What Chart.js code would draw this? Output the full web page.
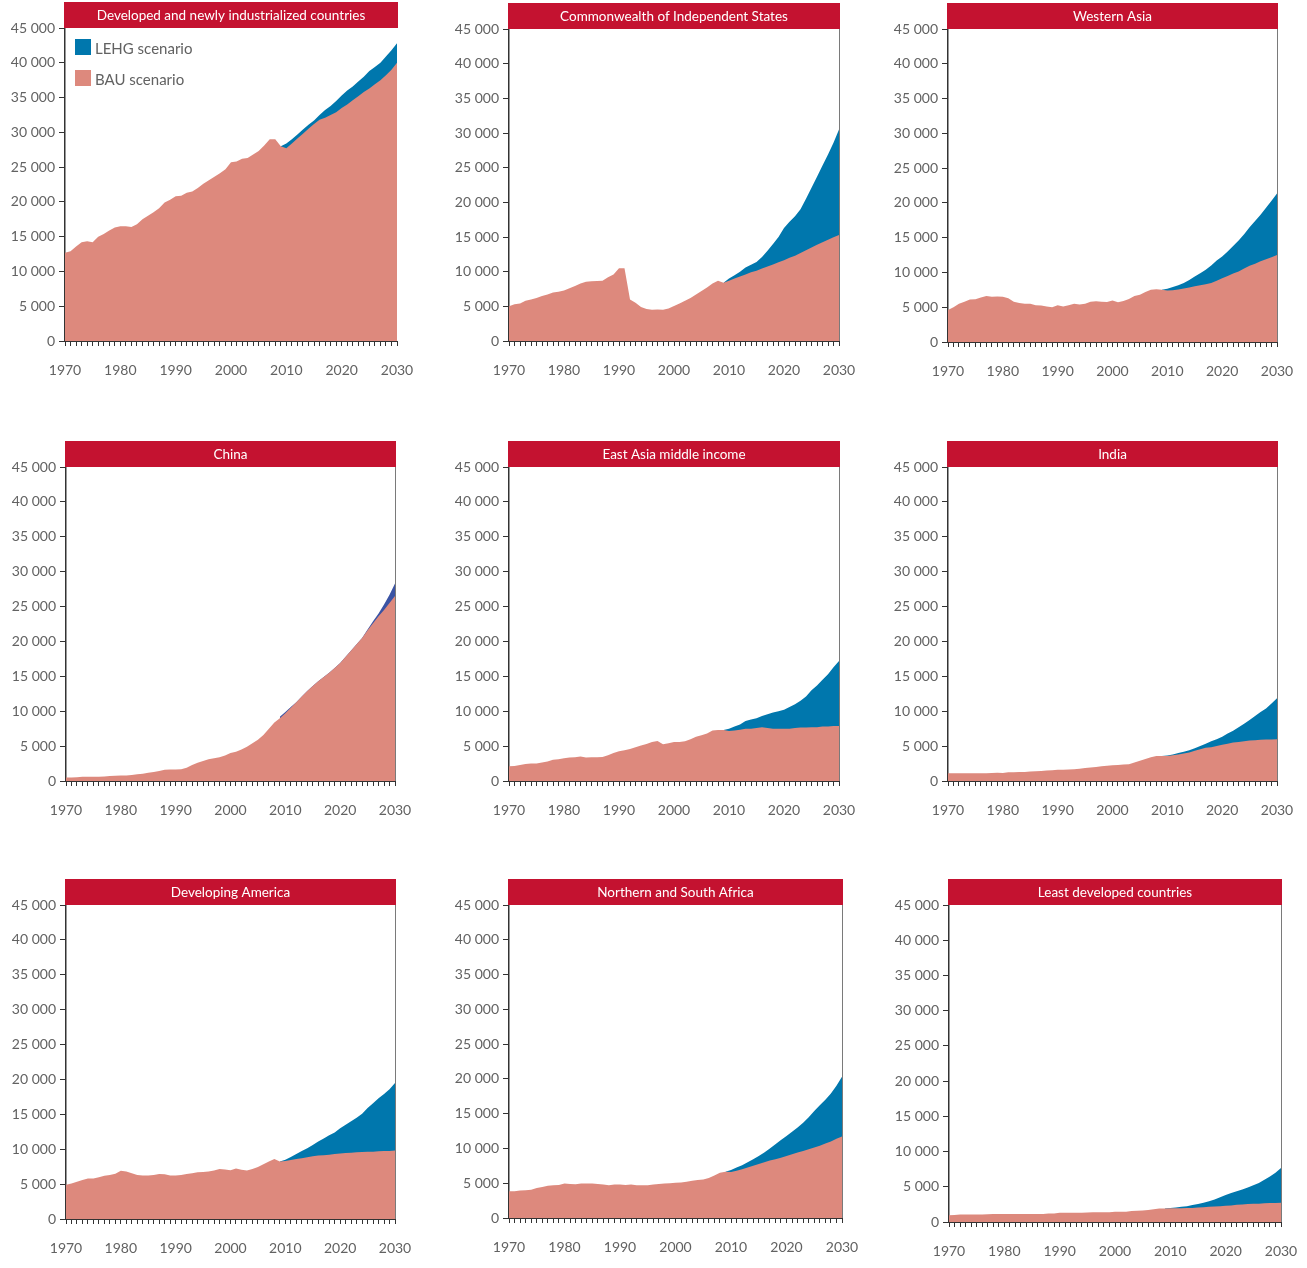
<!DOCTYPE html>
<html>
<head>
<meta charset="utf-8">
<script src="https://cdn.jsdelivr.net/npm/chart.js@4.4.1/dist/chart.umd.min.js"></script>
<style>
  body { margin: 0; background: #fff; }
  #page { position: relative; width: 1307px; height: 1268px; overflow: hidden; }
  #page canvas { position: absolute; }
</style>
</head>
<body>
<div id="page"></div>
<script>
// ---- data ----
var years = [1970,1971,1972,1973,1974,1975,1976,1977,1978,1979,
             1980,1981,1982,1983,1984,1985,1986,1987,1988,1989,
             1990,1991,1992,1993,1994,1995,1996,1997,1998,1999,
             2000,2001,2002,2003,2004,2005,2006,2007,2008,2009,
             2010,2011,2012,2013,2014,2015,2016,2017,2018,2019,
             2020,2021,2022,2023,2024,2025,2026,2027,2028,2029,2030];
var decadeLabels = ['1970','1980','1990','2000','2010','2020','2030'];
var lehgFrom = 2009; // LEHG series start (values below run 2009..2030)

var titles = ['Developed and newly industrialized countries', 'Commonwealth of Independent States', 'Western Asia',
              'China', 'East Asia middle income', 'India',
              'Developing America', 'Northern and South Africa', 'Least developed countries'];
var seriesNames = ['BAU scenario', 'LEHG scenario'];

var bauDev = [12700,12900,13600,14200,14350,14200,15000,15400,15900,16300,
              16500,16500,16400,16800,17500,18000,18500,19100,19900,20300,
              20800,20900,21300,21500,22000,22600,23100,23600,24100,24700,
              25700,25800,26200,26300,26800,27300,28100,29000,29000,28000,
              27700,28400,29100,29800,30500,31200,31800,32100,32500,32900,
              33500,34000,34600,35200,35800,36300,36900,37500,38200,39000,40000];
var lehgDev = [28000,28400,29000,29700,30400,31100,31700,32500,33200,33800,34500,
               35300,36000,36600,37300,38000,38800,39400,40000,40900,41800,42800];

var bauCis = [5000,5300,5400,5800,6000,6200,6500,6700,7000,7100,
              7300,7600,7950,8300,8550,8600,8650,8700,9200,9600,
              10500,10500,6000,5500,4900,4600,4500,4550,4500,4700,
              5050,5400,5800,6200,6700,7200,7700,8300,8700,8400,
              8700,9000,9300,9600,9900,10150,10450,10750,11050,11350,
              11650,12000,12300,12700,13100,13500,13900,14250,14600,14950,15300];
var lehgCis = [8400,9000,9500,10000,10600,11000,11400,12100,13000,14000,15000,
               16300,17200,18000,19000,20500,22100,23700,25300,26900,28600,30500];

var bauWAsia = [4600,5000,5500,5800,6100,6150,6400,6600,6500,6550,
                6500,6300,5800,5600,5500,5500,5300,5250,5100,5000,
                5300,5100,5300,5500,5400,5500,5800,5850,5800,5750,
                5950,5700,5900,6200,6600,6800,7200,7500,7600,7500,
                7400,7450,7550,7700,7850,8000,8150,8300,8500,8800,
                9150,9500,9850,10150,10550,10950,11250,11600,11900,12200,12500];
var lehgWAsia = [7500,7650,7900,8150,8500,8900,9400,9900,10400,11000,11700,
                 12300,13000,13800,14600,15500,16500,17400,18300,19300,20300,21350];

var bauChina = [500,500,550,600,600,600,600,650,700,750,
                800,800,850,950,1050,1200,1300,1450,1600,1650,
                1650,1700,1900,2300,2600,2850,3100,3250,3400,3650,
                4000,4200,4500,4900,5400,5900,6600,7500,8400,9000,
                9700,10500,11300,12100,12900,13600,14300,14900,15500,16200,
                16900,17800,18700,19600,20500,21600,22600,23600,24500,25500,26500];
var lehgChina = [9200,9900,10600,11300,12100,12900,13600,14300,14900,15500,16200,
                 16900,17800,18700,19600,20500,21700,22900,24000,25300,26700,28300];

var bauEAsia = [2100,2150,2300,2450,2500,2500,2650,2800,3050,3100,
                3250,3350,3400,3500,3350,3400,3400,3450,3700,4000,
                4250,4400,4600,4850,5100,5300,5600,5750,5250,5400,
                5600,5600,5700,6000,6350,6550,6800,7250,7300,7300,
                7150,7250,7350,7500,7500,7600,7700,7600,7500,7500,
                7500,7500,7600,7650,7650,7700,7700,7800,7800,7900,7900];
var lehgEAsia = [7300,7500,7800,8100,8600,8800,9000,9300,9550,9800,10000,
                 10200,10600,11000,11500,12100,13000,13700,14500,15300,16300,17200];

var bauIndia = [1100,1100,1100,1100,1100,1100,1100,1100,1150,1200,
                1150,1250,1250,1300,1300,1350,1400,1450,1500,1550,
                1600,1600,1650,1700,1750,1850,1950,2000,2100,2200,
                2250,2300,2350,2400,2650,2900,3150,3400,3600,3600,
                3600,3700,3800,3950,4100,4350,4550,4750,4850,5000,
                5200,5350,5500,5600,5700,5800,5850,5900,5950,5950,6000];
var lehgIndia = [3600,3650,3800,4000,4200,4400,4700,5000,5350,5700,6000,
                 6350,6800,7200,7700,8200,8750,9300,9900,10400,11100,11850];

var bauDevAm = [4900,5100,5350,5600,5800,5800,6000,6200,6300,6500,
                6900,6800,6550,6300,6250,6250,6300,6450,6400,6250,
                6250,6300,6450,6550,6700,6750,6800,6950,7150,7100,
                7000,7250,7050,6950,7150,7450,7850,8250,8600,8250,
                8300,8450,8600,8700,8850,9000,9100,9150,9200,9300,
                9400,9450,9500,9550,9600,9650,9650,9700,9750,9750,9800];
var lehgDevAm = [8250,8500,8900,9300,9750,10150,10600,11100,11550,12000,12400,
                 13000,13500,14000,14500,15100,15900,16600,17300,17900,18600,19500];

var bauAfrica = [3850,3850,3950,4000,4050,4300,4450,4650,4700,4750,
                 4950,4900,4850,4950,4950,4950,4900,4800,4700,4800,
                 4800,4750,4800,4700,4700,4700,4800,4900,4950,5000,
                 5050,5100,5200,5350,5450,5550,5750,6100,6500,6650,
                 6600,6800,7000,7250,7500,7750,8000,8250,8450,8650,
                 8900,9150,9400,9650,9900,10150,10400,10700,11000,11400,11700];
var lehgAfrica = [6650,6900,7250,7600,8000,8450,8900,9400,10000,10600,11200,
                  11800,12400,13000,13700,14500,15400,16200,17000,17900,19000,20300];

var bauLdc = [950,1000,1050,1050,1050,1050,1050,1100,1150,1150,
              1150,1150,1150,1150,1150,1150,1150,1150,1200,1200,
              1300,1300,1300,1300,1300,1350,1400,1400,1400,1400,
              1450,1450,1450,1550,1600,1650,1700,1800,1900,1900,
              1950,1950,1950,2000,2000,2050,2100,2150,2200,2250,
              2300,2350,2450,2500,2550,2600,2600,2650,2700,2700,2750];
var lehgLdc = [1900,2000,2050,2150,2250,2400,2550,2750,2950,3200,3500,
               3850,4100,4350,4600,4900,5200,5550,6000,6450,7000,7650];

// ---- look ----
var RED = '#c41230';
var BAU_COLOR = '#dd897d';
var LEHG_COLOR = '#0077ad';
var LEHG_CHINA = '#3a53a4';
var TEXT = '#626262';
var AXIS = '#333333';

// plot boxes [left, top, right, bottom] in page pixels
var panels = [
  { title: titles[0], bau: bauDev,   lehg: lehgDev,   box: [65, 28, 397, 341],   legend: true,  rightLine: false },
  { title: titles[1], bau: bauCis,   lehg: lehgCis,   box: [509, 29, 839, 341],  legend: false, rightLine: true },
  { title: titles[2], bau: bauWAsia, lehg: lehgWAsia, box: [948, 29, 1277, 342], legend: false, rightLine: true },
  { title: titles[3], bau: bauChina, lehg: lehgChina, box: [66, 467, 395, 781],  legend: false, rightLine: true, lehgColor: LEHG_CHINA },
  { title: titles[4], bau: bauEAsia, lehg: lehgEAsia, box: [509, 467, 839, 781], legend: false, rightLine: true },
  { title: titles[5], bau: bauIndia, lehg: lehgIndia, box: [948, 467, 1277, 781],legend: false, rightLine: true },
  { title: titles[6], bau: bauDevAm, lehg: lehgDevAm, box: [66, 905, 395, 1219], legend: false, rightLine: true },
  { title: titles[7], bau: bauAfrica,lehg: lehgAfrica,box: [509, 905, 842, 1218],legend: false, rightLine: true },
  { title: titles[8], bau: bauLdc,   lehg: lehgLdc,   box: [949, 905, 1281, 1222],legend: false, rightLine: true }
];

// the x tick padding also pushes the right edge in, so keep RIGHT_PAD above half a label + padding
var Y_AXIS_W = 62, TOP_PAD = 28, X_AXIS_H = 45, RIGHT_PAD = 40, X_LABEL_PAD = 16;

function padFrom(values) {
  var out = [];
  var skip = years.indexOf(lehgFrom);
  for (var i = 0; i < skip; i++) out.push(null);
  return out.concat(values);
}

function spaced(v) {
  return String(v).replace(/\B(?=(\d{3})+(?!\d))/g, ' ');
}

var panelDecor = {
  id: 'panelDecor',
  afterDraw: function(chart, args, opts) {
    var a = chart.chartArea, ctx = chart.ctx;
    ctx.save();
    // red title bar
    ctx.fillStyle = RED;
    ctx.fillRect(a.left - 1, a.top - 26, a.right - a.left + 2, 26);
    ctx.fillStyle = '#ffffff';
    ctx.font = '13.5px Lato';
    ctx.textAlign = 'center';
    ctx.textBaseline = 'middle';
    ctx.fillText(opts.title, (a.left + a.right) / 2, a.top - 12.5);
    if (opts.rightLine) {
      ctx.strokeStyle = '#7a7a7a';
      ctx.lineWidth = 1;
      ctx.beginPath();
      ctx.moveTo(a.right + 0.5, a.top);
      ctx.lineTo(a.right + 0.5, a.bottom);
      ctx.stroke();
    }
    if (opts.legend) {
      var ds = chart.data.datasets;
      var order = [1, 0];
      ctx.font = '15px Lato';
      ctx.textAlign = 'left';
      for (var i = 0; i < order.length; i++) {
        var d = ds[order[i]];
        var y = a.top + 11 + i * 31;
        ctx.fillStyle = d.backgroundColor;
        ctx.fillRect(a.left + 10, y, 16, 16);
        ctx.fillStyle = TEXT;
        ctx.fillText(d.label, a.left + 30, y + 10);
      }
    }
    ctx.restore();
  }
};

function makePanel(p) {
  var L = p.box[0], T = p.box[1], R = p.box[2], B = p.box[3];
  var canvas = document.createElement('canvas');
  var w = (R - L) + Y_AXIS_W + RIGHT_PAD;
  var h = (B - T) + TOP_PAD + X_AXIS_H;
  canvas.width = w; canvas.height = h;
  canvas.style.left = (L - Y_AXIS_W) + 'px';
  canvas.style.top = (T - TOP_PAD) + 'px';
  canvas.style.width = w + 'px';
  canvas.style.height = h + 'px';
  document.getElementById('page').appendChild(canvas);

  return new Chart(canvas, {
    type: 'line',
    data: {
      labels: years,
      datasets: [
        {
          label: seriesNames[0],
          data: p.bau,
          backgroundColor: BAU_COLOR,
          borderWidth: 0,
          pointRadius: 0,
          fill: 'origin'
        },
        {
          label: seriesNames[1],
          data: padFrom(p.lehg),
          backgroundColor: p.lehgColor || LEHG_COLOR,
          borderWidth: 0,
          pointRadius: 0,
          fill: 'origin'
        }
      ]
    },
    options: {
      responsive: false,
      animation: false,
      layout: { padding: { top: TOP_PAD, right: RIGHT_PAD, left: 0, bottom: 0 } },
      plugins: {
        legend: { display: false },
        tooltip: { enabled: false },
        panelDecor: { title: p.title, legend: p.legend, rightLine: p.rightLine }
      },
      scales: {
        x: {
          z: 1,
          offset: false,
          afterFit: function(s) { s.height = X_AXIS_H; },
          border: { display: true, color: AXIS, width: 1 },
          grid: { drawOnChartArea: false, drawTicks: true, tickLength: 5, color: AXIS },
          ticks: {
            autoSkip: false,
            maxRotation: 0,
            padding: X_LABEL_PAD,
            color: TEXT,
            font: { family: 'Lato', size: 14 },
            callback: function(val, i) {
              var lab = String(years[i]);
              return decadeLabels.indexOf(lab) >= 0 ? lab : '';
            }
          }
        },
        y: {
          z: 1,
          min: 0,
          max: 45000,
          afterFit: function(s) { s.width = Y_AXIS_W; },
          border: { display: true, color: AXIS, width: 1.5 },
          grid: { drawOnChartArea: false, drawTicks: true, tickLength: 6, color: AXIS },
          ticks: {
            stepSize: 5000,
            padding: 4,
            color: TEXT,
            font: { family: 'Lato', size: 14 },
            callback: function(v) { return spaced(v); }
          }
        }
      }
    },
    plugins: [panelDecor]
  });
}

for (var i = 0; i < panels.length; i++) {
  makePanel(panels[i]);
}
</script>
</body>
</html>
